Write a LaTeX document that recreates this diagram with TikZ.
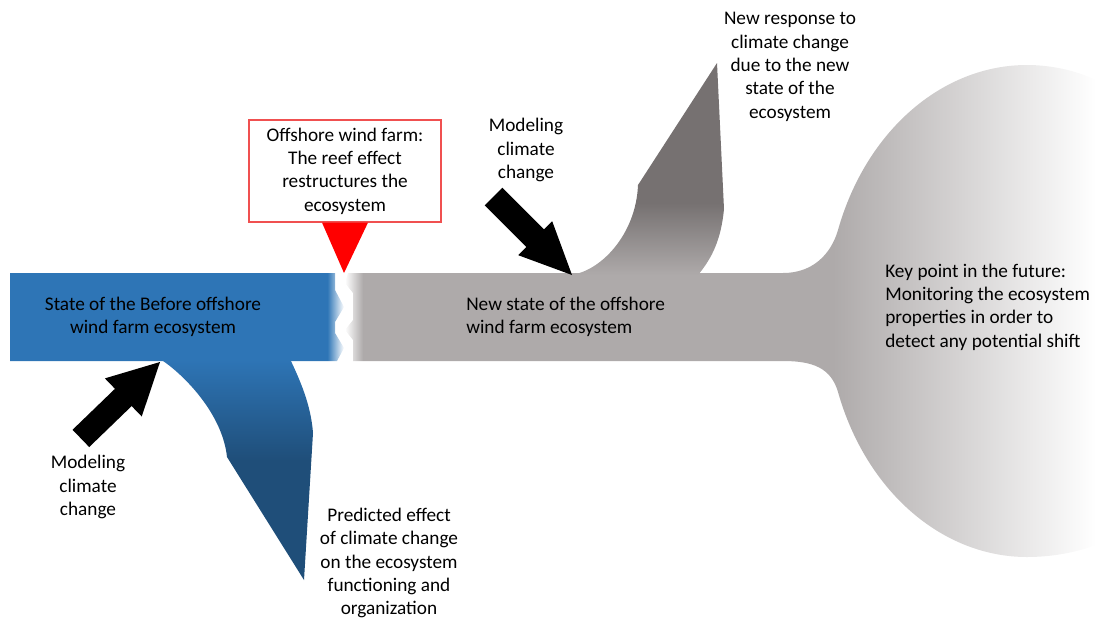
\documentclass[tikz,border=0pt]{standalone}
\usepackage{fontspec}
\setmainfont{Carlito}
\usetikzlibrary{positioning}

\definecolor{bandblue}{RGB}{46,117,182}
\definecolor{deepblue}{RGB}{31,78,121}
\definecolor{bandgray}{RGB}{174,170,170}
\definecolor{deepgray}{RGB}{118,113,113}
\definecolor{boxred}{RGB}{240,80,80}

% shadings (path bounding box spans 25bp..75bp)
\pgfdeclarehorizontalshading{bluefade}{100bp}{color(0bp)=(bandblue); color(72.5bp)=(bandblue); color(75bp)=(white); color(100bp)=(white)}
\pgfdeclarehorizontalshading{grayfade}{100bp}{color(0bp)=(white); color(25bp)=(white); color(26.2bp)=(bandgray); color(57.5bp)=(bandgray); color(75bp)=(white); color(100bp)=(white)}
\pgfdeclareverticalshading{bluedrop}{100bp}{color(0bp)=(deepblue); color(52bp)=(deepblue); color(75bp)=(bandblue); color(100bp)=(bandblue)}
\pgfdeclareverticalshading{grayrise}{100bp}{color(0bp)=(bandgray); color(25bp)=(bandgray); color(42bp)=(deepgray); color(100bp)=(deepgray)}

\begin{document}
\begin{tikzpicture}[
    x=0.025cm, y=-0.025cm,
    font=\fontsize{13.7}{16.6}\selectfont,
    % --- node styles ---
    txt/.style  = {align=center, inner sep=0pt},
    ltxt/.style = {align=left, inner sep=0pt, anchor=west},
    callout/.style = {draw=boxred, line width=0.8pt, fill=white,
                      align=center, minimum width=4.8cm,
                      minimum height=2.55cm, inner sep=0pt},
    fatarrow/.style = {fill=black},
]
\useasboundingbox (0,0) rectangle (1096,619);

%============ BEFORE STATE (blue band) ============
\shade[shading=bluefade] (10,273) -- (335,273) -- (335,290) -- (344,307)
  -- (335,322) -- (335,333) -- (344,348) -- (337,361) -- (10,361) -- cycle;

%============ NEW STATE + FUTURE (gray band and flare) ============
\shade[shading=grayfade] (348,273) -- (783,273)
  .. controls (813,273) and (831,254) .. (838,230)
  .. controls (866,131) and (942,65) .. (1027,65)
  .. controls (1050,65) and (1075,70) .. (1096,80) -- (1096,545)
  .. controls (1075,553) and (1050,557) .. (1027,557)
  .. controls (942,557) and (866,491) .. (838,392)
  .. controls (831,368) and (813,361) .. (783,361)
  -- (353,361) -- (353,340) -- (345,330) -- (353,320) -- (353,293)
  -- (345,283) -- cycle;

%============ BRANCHES ============
% new response (up)
\shade[shading=grayrise] (570,275) .. controls (600,272) and (636,235) .. (638,185)
  -- (717,63) -- (724,209) .. controls (721,240) and (712,258) .. (698,275) -- cycle;

% predicted effect (down)
\shade[shading=bluedrop] (160,359) .. controls (178,370) and (222,410) .. (227,457)
  -- (304,580) -- (313,433) .. controls (311,405) and (300,380) .. (290,359) -- cycle;

%============ CLIMATE ARROWS ============
\begin{scope}[shift={(160,362)}, rotate=44]
  \fill[fatarrow] (0,0) -- (-51,26.5) -- (-51,12) -- (-110,12)
    -- (-110,-12) -- (-51,-12) -- (-51,-26.5) -- cycle;
\end{scope}
\begin{scope}[shift={(572,275)}, rotate=-45]
  \fill[fatarrow] (0,0) -- (-52,24) -- (-52,12.5) -- (-111,12.5)
    -- (-111,-12.5) -- (-52,-12.5) -- (-52,-24) -- cycle;
\end{scope}

%============ CALLOUT ============
\node[callout] (reefbox) at (345,171)
  {Offshore wind farm:\\The reef effect\\restructures the\\ecosystem};
\coordinate (reeftip) at (344,273);
\fill[red] (reefbox.south) ++(-23,0) -- ++(46,0) -- (reeftip) -- cycle;

%============ LABELS ============
\node[txt] (beforetxt) at (153,317) {State of the Before offshore\\wind farm ecosystem};
\node[ltxt] (newtxt) at (466,317) {New state of the offshore\\wind farm ecosystem};
\node[txt] (modlow) at (88,487) {Modeling\\climate\\change};
\node[txt] (modup) at (526,150) {Modeling\\climate\\change};
\node[txt] (predicted) at (389,563)
  {Predicted effect\\of climate change\\on the ecosystem\\functioning and\\organization};
\node[txt] (response) at (790,67)
  {New response to\\climate change\\due to the new\\state of the\\ecosystem};
\node[ltxt] (keypoint) at (885,307)
  {Key point in the future:\\Monitoring the ecosystem\\properties in order to\\detect any potential shift};

\end{tikzpicture}
\end{document}
